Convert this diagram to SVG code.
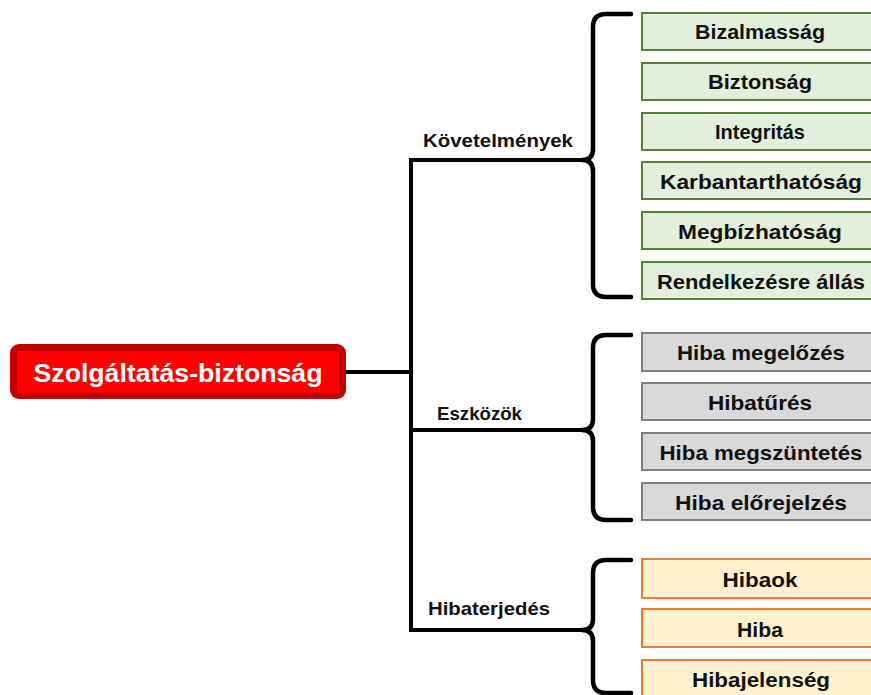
<svg xmlns="http://www.w3.org/2000/svg" width="871" height="695" viewBox="0 0 871 695">
  <style>
    .item { font-family: "Liberation Sans", Arial, sans-serif; font-weight: bold; font-size: 21px; fill: #111; text-anchor: middle; }
    .branch { font-family: "Liberation Sans", Arial, sans-serif; font-weight: bold; font-size: 19px; fill: #111; }
    .title { font-family: "Liberation Sans", Arial, sans-serif; font-weight: bold; font-size: 26px; fill: #fff; text-anchor: middle; }
    .green rect { fill: #e2efda; stroke: #548235; stroke-width: 2; }
    .gray rect { fill: #d9d9d9; stroke: #7f7f7f; stroke-width: 2; }
    .orange rect { fill: #fff2cc; stroke: #ed7d31; stroke-width: 2; }
    .line { fill: none; stroke: #000; stroke-width: 4; stroke-linejoin: round; }
    .brace { fill: none; stroke: #000; stroke-width: 4.5; stroke-linecap: round; stroke-linejoin: round; }
  </style>

  <rect width="871" height="695" fill="#fff"/>

  <!-- connectors: trunk, branches and braces -->
  <g id="connectors">
    <path class="line" d="M346,372 H411"/>
    <path class="line" d="M411,158 V632"/>
    <path class="line" d="M411,160 H588"/>
    <path class="line" d="M411,430 H588"/>
    <path class="line" d="M411,630 H588"/>
    <path class="brace" d="M631,14 L606,14 Q593,14 593,27 L593,149 Q593,160 582,160 Q593,160 593,171 L593,284 Q593,297 606,297 L631,297"/>
    <path class="brace" d="M631,335 L606,335 Q593,335 593,348 L593,419 Q593,430 582,430 Q593,430 593,441 L593,507 Q593,520 606,520 L631,520"/>
    <path class="brace" d="M631,560 L606,560 Q593,560 593,573 L593,619 Q593,630 582,630 Q593,630 593,641 L593,680 Q593,693 606,693 L631,693"/>
  </g>

  <!-- root -->
  <g id="root">
    <rect x="10" y="344" width="336" height="55" rx="9" fill="#c00000"/>
    <rect x="17" y="351" width="322" height="42" rx="3" fill="#ff0000"/>
    <text class="title" x="178" y="382" textLength="289" lengthAdjust="spacingAndGlyphs">Szolgáltatás-biztonság</text>
  </g>

  <!-- branch labels -->
  <g id="branch-kovetelmenyek"><text class="branch" x="423" y="147" textLength="150" lengthAdjust="spacingAndGlyphs">Követelmények</text></g>
  <g id="branch-eszkozok"><text class="branch" x="437" y="420" textLength="85" lengthAdjust="spacingAndGlyphs">Eszközök</text></g>
  <g id="branch-hibaterjedes"><text class="branch" x="428" y="615" textLength="122" lengthAdjust="spacingAndGlyphs">Hibaterjedés</text></g>

  <!-- requirements -->
  <g id="bizalmassag" class="green"><rect x="642" y="13" width="238" height="37"/><text class="item" x="760" y="39" textLength="130" lengthAdjust="spacingAndGlyphs">Bizalmasság</text></g>
  <g id="biztonsag" class="green"><rect x="642" y="63" width="238" height="37"/><text class="item" x="760" y="89" textLength="104" lengthAdjust="spacingAndGlyphs">Biztonság</text></g>
  <g id="integritas" class="green"><rect x="642" y="113" width="238" height="37"/><text class="item" x="760" y="139" textLength="90" lengthAdjust="spacingAndGlyphs">Integritás</text></g>
  <g id="karbantarthatosag" class="green"><rect x="642" y="162" width="238" height="37"/><text class="item" x="761" y="189" textLength="202" lengthAdjust="spacingAndGlyphs">Karbantarthatóság</text></g>
  <g id="megbizhatosag" class="green"><rect x="642" y="212" width="238" height="37"/><text class="item" x="760" y="239" textLength="164" lengthAdjust="spacingAndGlyphs">Megbízhatóság</text></g>
  <g id="rendelkezesre" class="green"><rect x="642" y="262" width="238" height="37"/><text class="item" x="761" y="289" textLength="208" lengthAdjust="spacingAndGlyphs">Rendelkezésre állás</text></g>

  <!-- tools -->
  <g id="hiba-megelozes" class="gray"><rect x="642" y="333" width="238" height="38"/><text class="item" x="761" y="360" textLength="168" lengthAdjust="spacingAndGlyphs">Hiba megelőzés</text></g>
  <g id="hibatures" class="gray"><rect x="642" y="383" width="238" height="37"/><text class="item" x="760" y="410" textLength="104" lengthAdjust="spacingAndGlyphs">Hibatűrés</text></g>
  <g id="hiba-megszuntetes" class="gray"><rect x="642" y="433" width="238" height="37"/><text class="item" x="761" y="460" textLength="203" lengthAdjust="spacingAndGlyphs">Hiba megszüntetés</text></g>
  <g id="hiba-elorejelzes" class="gray"><rect x="642" y="483" width="238" height="37"/><text class="item" x="761" y="510" textLength="172" lengthAdjust="spacingAndGlyphs">Hiba előrejelzés</text></g>

  <!-- propagation -->
  <g id="hibaok" class="orange"><rect x="642" y="559" width="238" height="39"/><text class="item" x="760" y="587" textLength="75" lengthAdjust="spacingAndGlyphs">Hibaok</text></g>
  <g id="hiba" class="orange"><rect x="642" y="609" width="238" height="38"/><text class="item" x="760" y="637" textLength="46" lengthAdjust="spacingAndGlyphs">Hiba</text></g>
  <g id="hibajelenseg" class="orange"><rect x="642" y="660" width="238" height="38"/><text class="item" x="761" y="687" textLength="138" lengthAdjust="spacingAndGlyphs">Hibajelenség</text></g>
</svg>
